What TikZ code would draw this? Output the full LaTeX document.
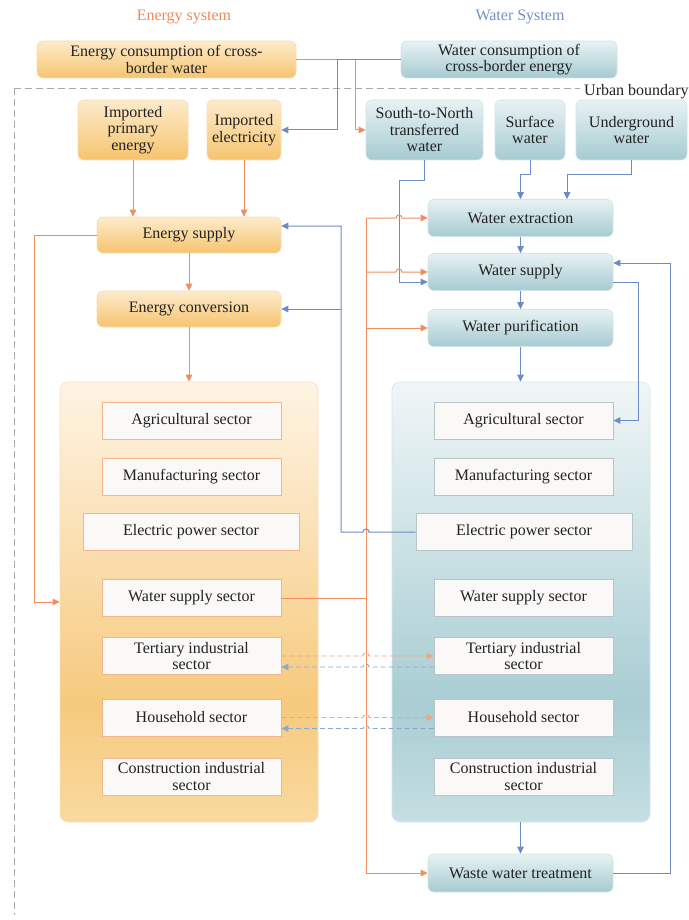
\documentclass[tikz,border=0pt]{standalone}
\usepackage{fontspec}
\setmainfont{Liberation Serif}
\usetikzlibrary{arrows.meta,calc}
\definecolor{lor}{HTML}{EF8F5F}
\definecolor{lbl}{HTML}{6B8CC6}
\definecolor{dor}{HTML}{F2A47D}
\definecolor{dbl}{HTML}{8EA6D2}
\definecolor{txt}{HTML}{222222}
\definecolor{ttlor}{HTML}{EE8A5A}
\definecolor{ttlbl}{HTML}{7391C9}
\definecolor{obtop}{HTML}{FDEBCB}
\definecolor{obbot}{HTML}{F6C46F}
\definecolor{obdr}{HTML}{FADCB6}
\definecolor{tbtop}{HTML}{E8F2F4}
\definecolor{tbbot}{HTML}{A6CBD1}
\definecolor{tbdr}{HTML}{D3E4E7}
\definecolor{secfill}{HTML}{FAF9F8}
\definecolor{esdr}{HTML}{F3B68C}
\definecolor{wsdr}{HTML}{B7C5C9}
\definecolor{ept}{HTML}{FEF4E4}
\definecolor{epm}{HTML}{F6CA7E}
\definecolor{epb}{HTML}{F9DA9F}
\definecolor{epdr}{HTML}{FADFBC}
\definecolor{wpt}{HTML}{F0F6F7}
\definecolor{wpm}{HTML}{A8CDD3}
\definecolor{wpb}{HTML}{C5DFE2}
\definecolor{wpdr}{HTML}{D6E6E9}
\definecolor{bnd}{HTML}{A8A8A8}
\pgfdeclareverticalshading{epsh}{100bp}{color(0bp)=(epb); color(25bp)=(epb); color(38.5bp)=(epm); color(75bp)=(ept); color(100bp)=(ept)}
\pgfdeclareverticalshading{wpsh}{100bp}{color(0bp)=(wpb); color(25bp)=(wpb); color(38.5bp)=(wpm); color(75bp)=(wpt); color(100bp)=(wpt)}
\begin{document}
\begin{tikzpicture}[x=1pt,y=-1pt,
  every node/.style={font=\fontsize{16}{16.5}\selectfont, text=txt, inner sep=0pt, align=center},
  obox/.style={draw=obdr, line width=0.6pt, rounded corners=6pt, top color=obtop, bottom color=obbot},
  tbox/.style={draw=tbdr, line width=0.6pt, rounded corners=6pt, top color=tbtop, bottom color=tbbot},
  esec/.style={draw=esdr, fill=secfill, line width=0.8pt, minimum height=37pt, minimum width=179pt},
  wsec/.style={draw=wsdr, fill=secfill, line width=0.8pt, minimum height=37pt, minimum width=179pt},
  ol/.style={draw=lor, line width=1pt},
  bl/.style={draw=lbl, line width=1pt},
  oarr/.style={ol, -{Triangle[length=7pt,width=6.5pt]}},
  barr/.style={bl, -{Triangle[length=7pt,width=6.5pt]}},
  odsh/.style={draw=dor, line width=0.9pt, dash pattern=on 5pt off 3pt, -{Triangle[length=7pt,width=6.5pt]}},
  bdsh/.style={draw=dbl, line width=0.9pt, dash pattern=on 5pt off 3pt, -{Triangle[length=7pt,width=6.5pt]}},
  bndline/.style={draw=bnd, line width=0.8pt, dash pattern=on 7pt off 4pt},
]
\useasboundingbox (0,0) rectangle (688,920);
\fill[white] (0,0) rectangle (688,920);

% titles
\node[text=ttlor] (tE) at (184,17) {Energy system};
\node[text=ttlbl] (tW) at (520,17) {Water System};

% urban boundary
\draw[bndline] (14,88) -- (580,88);
\draw[bndline] (14,88) -- (14,915);
\node[anchor=west] (ub) at (584,92) {Urban boundary};

% top boxes
\node[obox, minimum width=259pt, minimum height=37pt] (ecw) at (166.5,59.5) {Energy consumption of cross-\\border water};
\node[tbox, minimum width=216pt, minimum height=37pt] (wce) at (509,59.5) {Water consumption of\\cross-border energy};

\node[obox, minimum width=110pt, minimum height=60pt] (ipe) at (133,130) {Imported\\primary\\energy};
\node[obox, minimum width=74pt, minimum height=60pt] (iel) at (244,130) {Imported\\electricity};
\node[tbox, minimum width=117pt, minimum height=60pt] (stn) at (424.5,130) {South-to-North\\transferred\\water};
\node[tbox, minimum width=70pt, minimum height=60pt] (sfw) at (530,130) {Surface\\water};
\node[tbox, minimum width=111pt, minimum height=60pt] (ugw) at (631.5,130) {Underground\\water};

\node[obox, minimum width=184pt, minimum height=36pt] (esup) at (189,235) {Energy supply};
\node[obox, minimum width=184pt, minimum height=36pt] (econv) at (189,309) {Energy conversion};

\node[tbox, minimum width=185pt, minimum height=37pt] (wext) at (520.5,218) {Water extraction};
\node[tbox, minimum width=185pt, minimum height=37pt] (wsup) at (520.5,272) {Water supply};
\node[tbox, minimum width=185pt, minimum height=37pt] (wpur) at (520.5,328) {Water purification};

% panels
\node[shading=epsh, draw=epdr, line width=0.6pt, rounded corners=8pt, minimum width=258pt, minimum height=440pt] (epan) at (189,602) {};
\node[shading=wpsh, draw=wpdr, line width=0.6pt, rounded corners=8pt, minimum width=258pt, minimum height=440pt] (wpan) at (521,602) {};

% energy sectors
\node[esec] (eagr) at (191.5,420.5) {Agricultural sector};
\node[esec] (eman) at (191.5,476.5) {Manufacturing sector};
\node[esec, minimum width=216pt] (eele) at (191,532) {Electric power sector};
\node[esec] (ewss) at (191.5,598) {Water supply sector};
\node[esec] (eter) at (191.5,656) {Tertiary industrial\\sector};
\node[esec] (ehou) at (191.5,717.5) {Household sector};
\node[esec] (econ) at (191.5,776.5) {Construction industrial\\sector};

% water sectors
\node[wsec] (wagr) at (523.5,420.5) {Agricultural sector};
\node[wsec] (wman) at (523.5,476.5) {Manufacturing sector};
\node[wsec, minimum width=216pt] (wele) at (524,532) {Electric power sector};
\node[wsec] (wwss) at (523.5,598) {Water supply sector};
\node[wsec] (wter) at (523.5,656) {Tertiary industrial\\sector};
\node[wsec] (whou) at (523.5,717.5) {Household sector};
\node[wsec] (wcon) at (523.5,776.5) {Construction industrial\\sector};

\node[tbox, minimum width=185pt, minimum height=38pt] (wwt) at (520.5,873) {Waste water treatment};

% routing coordinates
\coordinate (xl) at (34,0);
\coordinate (xb) at (341,0);
\coordinate (xo) at (366,0);
\coordinate (xs) at (399,0);
\coordinate (xt1) at (355,0);
\coordinate (xt2) at (337,0);
\coordinate (xr1) at (638,0);
\coordinate (xr2) at (670,0);

% top cross-border connectors
\draw[oarr] (ecw.east) -| (xt1 |- stn.west) -- (stn.west);
\draw[barr] (wce.west) -| (xt2 |- iel.east) -- (iel.east);

% energy chain
\draw[oarr] (ipe.south) -- (ipe.south |- esup.north);
\draw[oarr] (iel.south) -- (iel.south |- esup.north);
\draw[oarr] (esup.south) -- (econv.north);
\draw[oarr] (econv.south) -- (econv.south |- epan.north);
\draw[oarr] (esup.west) -| (xl |- epan.west) -- (epan.west);

% water sources
\draw[barr] (stn.south) -- ($(stn.south)+(0,20)$) -| ($(wsup.west -| xs)+(0,10)$) -- ($(wsup.west)+(0,10)$);
\draw[barr] (sfw.south) -- ($(sfw.south)+(0,14)$) -| (wext.north);
\draw[barr] (ugw.south) -- ($(ugw.south)+(0,14)$) -| ($(wext.north)+(46.5,0)$);

% water chain
\draw[barr] (wext.south) -- (wsup.north);
\draw[barr] (wsup.south) -- (wpur.north);
\draw[barr] (wpur.south) -- (wpur.south |- wpan.north);
\draw[barr] (wwt.north |- wpan.south) -- (wwt.north);
\draw[barr] ($(wsup.east)+(0,10)$) -| (xr1 |- wagr.east) -- (wagr.east);
\draw[barr] (wwt.east) -| ($(xr2 |- wsup.east)+(0,-9)$) -- ($(wsup.east)+(0,-9)$);

% orange: water supply sector -> water system
\draw[ol] (ewss.east) -- (ewss.east -| xo);
\draw[ol] (wext.west -| xo) -- (wwt.west -| xo);
\draw[oarr] (wext.west -| xo) -- ($(wext.west -| xs)+(-3,0)$) arc[start angle=180,end angle=0,radius=3pt] -- (wext.west);
\draw[oarr] (wsup.west -| xo) -- ($(wsup.west -| xs)+(-3,0)$) arc[start angle=180,end angle=0,radius=3pt] -- (wsup.west);
\draw[oarr] (wpur.west -| xo) -- (wpur.west);
\draw[oarr] (wwt.west -| xo) -- (wwt.west);

% blue: electric power sector (water) -> energy supply / conversion
\draw[barr] (wele.west) -- ($(wele.west -| xo)+(3,0)$) arc[start angle=0,end angle=180,radius=3pt] -- (wele.west -| xb) -- ($(xb |- esup.east)+(0,-9)$) -- ($(esup.east)+(0,-9)$);
\draw[barr] (econv.east -| xb) -- (econv.east);

% dashed exchanges
\draw[odsh] (eter.east) -- ($(eter.east -| xo)+(-3,0)$) arc[start angle=180,end angle=0,radius=3pt] -- (wter.west);
\draw[bdsh] ($(wter.west)+(0,11)$) -- ($(wter.west -| xo)+(3,11)$) arc[start angle=0,end angle=180,radius=3pt] -- ($(eter.east)+(0,11)$);
\draw[odsh] (ehou.east) -- ($(ehou.east -| xo)+(-3,0)$) arc[start angle=180,end angle=0,radius=3pt] -- (whou.west);
\draw[bdsh] ($(whou.west)+(0,11)$) -- ($(whou.west -| xo)+(3,11)$) arc[start angle=0,end angle=180,radius=3pt] -- ($(ehou.east)+(0,11)$);
\end{tikzpicture}
\end{document}
